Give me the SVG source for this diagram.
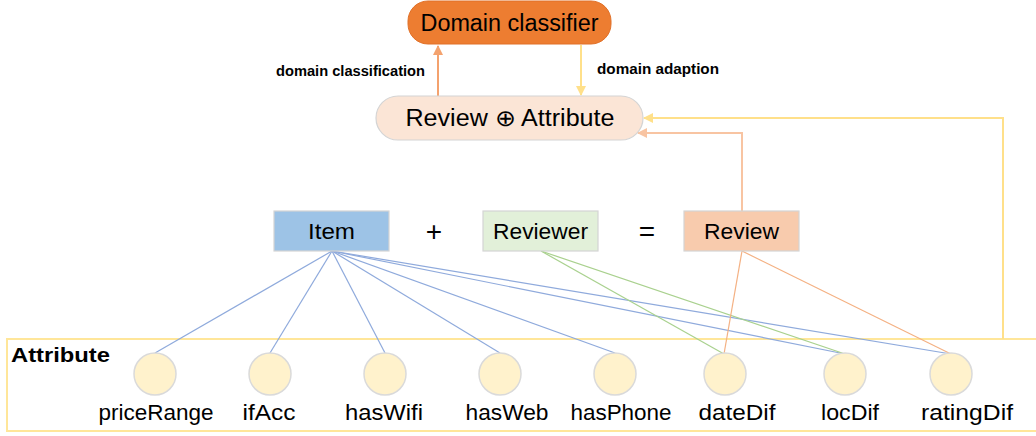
<svg xmlns="http://www.w3.org/2000/svg" width="1036" height="436" viewBox="0 0 1036 436">
<defs>
<style>
.t{font-family:"Liberation Sans",Arial,sans-serif;fill:#000;}
.node{stroke:#D4D4D4;stroke-width:1.2;}
.circ{fill:#FFF2CC;stroke:#DADADA;stroke-width:1.5;}
.lbl{font-size:22px;text-anchor:middle;}
.bl{stroke:#8FAADC;stroke-width:1.2;fill:none;}
.gr{stroke:#A9D18E;stroke-width:1.2;fill:none;}
.or{stroke:#F4B183;stroke-width:1.2;fill:none;}
</style>
<marker id="aOr" viewBox="0 0 10 10" refX="9" refY="5" markerWidth="10" markerHeight="10" markerUnits="userSpaceOnUse" orient="auto"><path d="M0,0L10,5L0,10z" fill="#F4A26E"/></marker>
<marker id="aYe" viewBox="0 0 10 10" refX="9" refY="5" markerWidth="10" markerHeight="10" markerUnits="userSpaceOnUse" orient="auto"><path d="M0,0L10,5L0,10z" fill="#FFE08A"/></marker>
<marker id="aPe" viewBox="0 0 10 10" refX="9" refY="5" markerWidth="10" markerHeight="10" markerUnits="userSpaceOnUse" orient="auto"><path d="M0,0L10,5L0,10z" fill="#F8C4A2"/></marker>
</defs>
<rect width="1036" height="436" fill="#fff"/>

<g id="attribute-group">
<rect x="7" y="339" width="1040" height="92" fill="none" stroke="#FFE699" stroke-width="2"/>
<text class="t" x="11" y="362" font-size="20" font-weight="bold" textLength="99" lengthAdjust="spacingAndGlyphs">Attribute</text>
</g>

<g id="connectors">
<line class="bl" x1="332" y1="251" x2="155" y2="353"/>
<line class="bl" x1="332" y1="251" x2="270" y2="353"/>
<line class="bl" x1="332" y1="251" x2="385" y2="353"/>
<line class="bl" x1="332" y1="251" x2="500" y2="353"/>
<line class="bl" x1="332" y1="251" x2="615" y2="353"/>
<line class="bl" x1="332" y1="251" x2="845" y2="354"/>
<line class="bl" x1="332" y1="251" x2="951" y2="354"/>
<line class="gr" x1="541" y1="251" x2="724" y2="354"/>
<line class="gr" x1="541" y1="251" x2="845" y2="354"/>
<line class="or" x1="742" y1="251" x2="724" y2="354"/>
<line class="or" x1="742" y1="251" x2="951" y2="354"/>
<line x1="438" y1="96" x2="438" y2="46" stroke="#F4A26E" stroke-width="2" marker-end="url(#aOr)"/>
<line x1="581" y1="45" x2="581" y2="95" stroke="#FFE08A" stroke-width="2" marker-end="url(#aYe)"/>
<polyline points="1003,339 1003,118 644,118" fill="none" stroke="#FFE08A" stroke-width="2" marker-end="url(#aYe)"/>
<polyline points="742,211 742,133 638,133" fill="none" stroke="#F8C4A2" stroke-width="2" marker-end="url(#aPe)"/>
<text class="t" x="276" y="76" font-size="14" font-weight="bold" textLength="149" lengthAdjust="spacingAndGlyphs" fill="#222">domain classification</text>
<text class="t" x="597" y="74" font-size="14" font-weight="bold" textLength="122" lengthAdjust="spacingAndGlyphs" fill="#222">domain adaption</text>
</g>

<g id="domain-classifier">
<rect x="408" y="1" width="203" height="43" rx="20" fill="#ED7D31" stroke="#E07028" stroke-width="1"/>
<text class="t" x="509.5" y="31" font-size="23" text-anchor="middle" textLength="178" lengthAdjust="spacingAndGlyphs">Domain classifier</text>
</g>

<g id="review-attribute">
<rect x="376" y="96" width="267" height="44" rx="22" fill="#FBE5D6" class="node"/>
<text class="t" x="510" y="126" font-size="23" text-anchor="middle" textLength="209" lengthAdjust="spacingAndGlyphs">Review ⊕ Attribute</text>
</g>

<g id="item">
<rect x="274" y="211" width="115" height="40" fill="#9DC3E6" class="node"/>
<text class="t" x="331.5" y="239" font-size="22" text-anchor="middle" textLength="47" lengthAdjust="spacingAndGlyphs">Item</text>
</g>
<g id="plus"><text class="t" x="434" y="241" font-size="28" text-anchor="middle">+</text></g>
<g id="reviewer">
<rect x="483" y="211" width="115" height="40" fill="#E2F0D9" class="node"/>
<text class="t" x="540.5" y="239" font-size="22" text-anchor="middle" textLength="95" lengthAdjust="spacingAndGlyphs">Reviewer</text>
</g>
<g id="equals"><text class="t" x="647" y="241" font-size="28" text-anchor="middle">=</text></g>
<g id="review">
<rect x="684" y="211" width="115" height="40" fill="#F8CBAD" class="node"/>
<text class="t" x="741.5" y="239" font-size="22" text-anchor="middle" textLength="75" lengthAdjust="spacingAndGlyphs">Review</text>
</g>

<g id="priceRange"><circle class="circ" cx="155" cy="374" r="21"/><text class="t lbl" x="156" y="420" textLength="115" lengthAdjust="spacingAndGlyphs">priceRange</text></g>
<g id="ifAcc"><circle class="circ" cx="270" cy="374" r="21"/><text class="t lbl" x="269" y="420" textLength="53" lengthAdjust="spacingAndGlyphs">ifAcc</text></g>
<g id="hasWifi"><circle class="circ" cx="385" cy="374" r="21"/><text class="t lbl" x="384" y="420" textLength="78" lengthAdjust="spacingAndGlyphs">hasWifi</text></g>
<g id="hasWeb"><circle class="circ" cx="500" cy="374" r="21"/><text class="t lbl" x="507" y="420" textLength="83" lengthAdjust="spacingAndGlyphs">hasWeb</text></g>
<g id="hasPhone"><circle class="circ" cx="615" cy="374" r="21"/><text class="t lbl" x="621" y="420" textLength="101" lengthAdjust="spacingAndGlyphs">hasPhone</text></g>
<g id="dateDif"><circle class="circ" cx="725" cy="374" r="21"/><text class="t lbl" x="737" y="420" textLength="77" lengthAdjust="spacingAndGlyphs">dateDif</text></g>
<g id="locDif"><circle class="circ" cx="845" cy="374" r="21"/><text class="t lbl" x="850" y="420" textLength="58" lengthAdjust="spacingAndGlyphs">locDif</text></g>
<g id="ratingDif"><circle class="circ" cx="951" cy="374" r="21"/><text class="t lbl" x="967" y="420" textLength="92" lengthAdjust="spacingAndGlyphs">ratingDif</text></g>
</svg>
